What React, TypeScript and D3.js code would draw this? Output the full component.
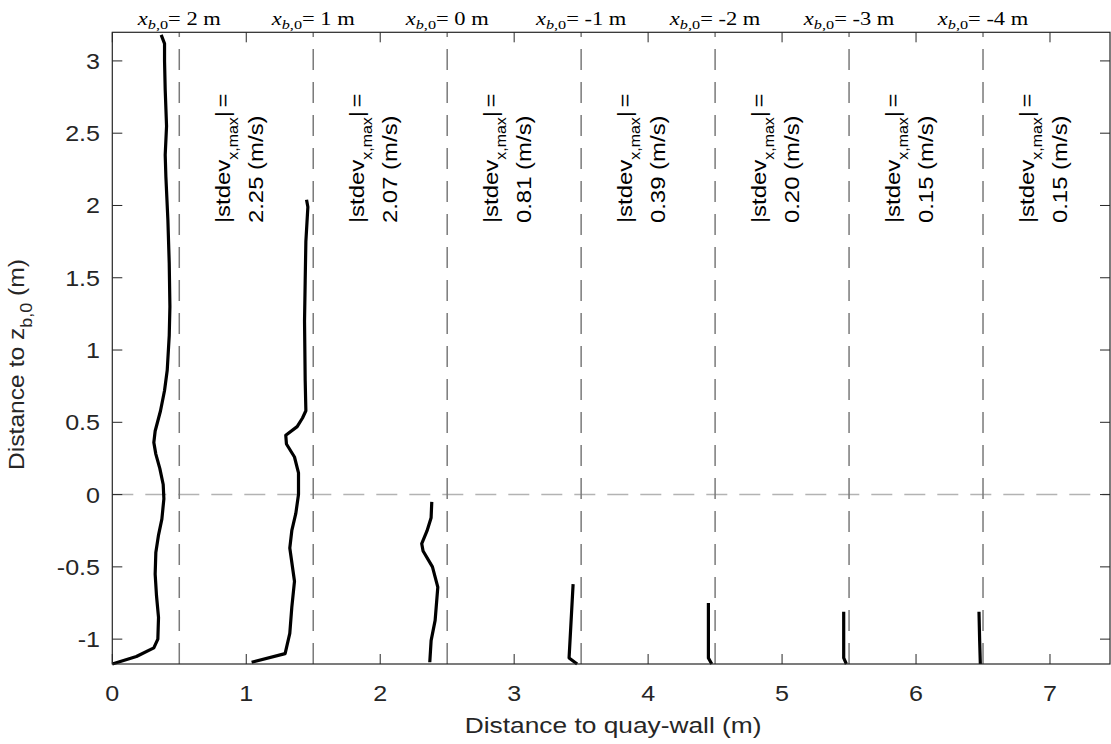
import React from "react";
import * as d3 from "d3";

// ---------- data ----------
const X_TICKS = [0, 1, 2, 3, 4, 5, 6, 7];
const X_TICK_LABELS = ["0", "1", "2", "3", "4", "5", "6", "7"];
const Y_TICKS = [-1, -0.5, 0, 0.5, 1, 1.5, 2, 2.5, 3];
const Y_TICK_LABELS = ["-1", "-0.5", "0", "0.5", "1", "1.5", "2", "2.5", "3"];
const DIVIDERS = [0.5, 1.5, 2.5, 3.5, 4.5, 5.5, 6.5];
const XB0_LABELS = ["2", "1", "0", "-1", "-2", "-3", "-4"];
const STDEV_MAX = ["2.25", "2.07", "0.81", "0.39", "0.20", "0.15", "0.15"];

// profiles: [distance to quay-wall (m), distance to z_b,0 (m)]
const profileXb2: [number, number][] = [
  [0.0, -1.172], [0.18, -1.12], [0.31, -1.06], [0.34, -1.0], [0.345, -0.85],
  [0.33, -0.7], [0.32, -0.55], [0.325, -0.4], [0.345, -0.28], [0.37, -0.17],
  [0.385, -0.03], [0.38, 0.07], [0.355, 0.18], [0.325, 0.28], [0.31, 0.36],
  [0.32, 0.44], [0.36, 0.58], [0.39, 0.72], [0.41, 0.86], [0.425, 1.1],
  [0.43, 1.3], [0.425, 1.6], [0.415, 1.9], [0.4, 2.2], [0.395, 2.35],
  [0.405, 2.55], [0.395, 2.8], [0.39, 3.0], [0.39, 3.12], [0.365, 3.18],
];
const profileXb1: [number, number][] = [
  [1.04, -1.16], [1.29, -1.1], [1.325, -0.96], [1.34, -0.78], [1.36, -0.6],
  [1.325, -0.37], [1.34, -0.25], [1.37, -0.13], [1.39, 0.0], [1.39, 0.15],
  [1.36, 0.26], [1.3, 0.35], [1.295, 0.41], [1.38, 0.47], [1.42, 0.53],
  [1.445, 0.58], [1.44, 0.79], [1.435, 1.2], [1.44, 1.48], [1.445, 1.75],
  [1.46, 1.99], [1.45, 2.04],
];
const profileXb0: [number, number][] = [
  [2.37, -1.16], [2.38, -1.01], [2.41, -0.87], [2.43, -0.64], [2.39, -0.5],
  [2.32, -0.39], [2.31, -0.34], [2.35, -0.25], [2.38, -0.16], [2.385, -0.05],
];
const profileXbm1: [number, number][] = [[3.47, -1.172], [3.41, -1.13], [3.44, -0.62]];
const profileXbm2: [number, number][] = [[4.475, -1.172], [4.45, -1.13], [4.45, -0.75]];
const profileXbm3: [number, number][] = [[5.48, -1.172], [5.46, -1.13], [5.46, -0.81]];
const profileXbm4: [number, number][] = [[6.48, -1.172], [6.475, -1.01], [6.47, -0.81]];
const PROFILES = [profileXb2, profileXb1, profileXb0, profileXbm1, profileXbm2, profileXbm3, profileXbm4];

// ---------- layout ----------
const W = 1111;
const H = 744;
const L = 112.3, R = 1110, T = 32.3, B = 664;
const X_DOMAIN: [number, number] = [0, 7.448];
const Y_DOMAIN: [number, number] = [-1.172, 3.198];
const AX = "#262626";
const SANS = "'Liberation Sans', Arial, Helvetica, sans-serif";
const SERIF = "'Liberation Serif', 'Times New Roman', serif";
const ST = 1.14; // horizontal stretch of text

export default function App() {
  const x = d3.scaleLinear().domain(X_DOMAIN).range([L, R]);
  const y = d3.scaleLinear().domain(Y_DOMAIN).range([B, T]);
  const line = d3
    .line<[number, number]>()
    .x((d) => x(d[0]))
    .y((d) => y(d[1]));
  const tickLen = 10;

  return (
    <svg
      width={W}
      height={H}
      style={{ position: "absolute", left: 0, top: 0, background: "#fff" }}
      fontFamily={SANS}
    >
      <rect x={0} y={0} width={W} height={H} fill="#fff" />

      {/* horizontal reference at z = 0 */}
      <line
        x1={x(X_DOMAIN[0])}
        x2={x(X_DOMAIN[1])}
        y1={y(0)}
        y2={y(0)}
        stroke="#b3b3b3"
        strokeWidth={1.5}
        strokeDasharray="21,12"
      />
      {/* vertical dividers */}
      {DIVIDERS.map((d) => (
        <line
          key={"dv" + d}
          x1={x(d)}
          x2={x(d)}
          y1={y(Y_DOMAIN[0])}
          y2={y(Y_DOMAIN[1])}
          stroke="#7a7a7a"
          strokeWidth={1.5}
          strokeDasharray="21,12"
        />
      ))}

      {/* profiles */}
      {PROFILES.map((p, i) => (
        <path
          key={"p" + i}
          d={line(p) || ""}
          fill="none"
          stroke="#000"
          strokeWidth={3.2}
          strokeLinejoin="round"
          strokeLinecap="butt"
        />
      ))}

      {/* axes box */}
      <rect x={L} y={T} width={R - L} height={B - T} fill="none" stroke={AX} strokeWidth={1.2} />
      {X_TICKS.map((t) => (
        <g key={"xt" + t}>
          <line x1={x(t)} x2={x(t)} y1={B} y2={B - tickLen} stroke={AX} strokeWidth={1} />
          <line x1={x(t)} x2={x(t)} y1={T} y2={T + tickLen} stroke={AX} strokeWidth={1} />
        </g>
      ))}
      {Y_TICKS.map((t) => (
        <g key={"yt" + t}>
          <line x1={L} x2={L + tickLen} y1={y(t)} y2={y(t)} stroke={AX} strokeWidth={1} />
          <line x1={R} x2={R - tickLen} y1={y(t)} y2={y(t)} stroke={AX} strokeWidth={1} />
        </g>
      ))}

      {/* tick labels */}
      {X_TICKS.map((t, i) => (
        <text
          key={"xl" + t}
          transform={`translate(${x(t)},${700.5}) scale(${ST},1)`}
          textAnchor="middle"
          fontSize={22}
          fill={AX}
        >
          {X_TICK_LABELS[i]}
        </text>
      ))}
      {Y_TICKS.map((t, i) => (
        <text
          key={"yl" + t}
          transform={`translate(${100},${y(t) + 8}) scale(${ST},1)`}
          textAnchor="end"
          fontSize={22}
          fill={AX}
        >
          {Y_TICK_LABELS[i]}
        </text>
      ))}

      {/* axis labels */}
      <text
        transform={`translate(${(L + R) / 2 + 2},${733}) scale(1.17,1)`}
        textAnchor="middle"
        fontSize={22.5}
        fill={AX}
      >
        Distance to quay-wall (m)
      </text>
      <text
        transform={`translate(${24},${470}) rotate(-90) scale(1.12,1)`}
        textAnchor="start"
        fontSize={22}
        fill={AX}
      >
        Distance to z
        <tspan fontSize={16} dy={8}>b,0</tspan>
        <tspan dy={-8}> (m)</tspan>
      </text>

      {/* top position labels */}
      {XB0_LABELS.map((v, i) => (
        <text
          key={"top" + i}
          transform={`translate(${x(i + 0.5)},${25}) scale(1.25,1)`}
          textAnchor="middle"
          fontFamily={SERIF}
          fontSize={18}
          fill="#000"
        >
          <tspan fontStyle="italic">x</tspan>
          <tspan fontSize={13} dy={3.5} fontStyle="italic">b</tspan>
          <tspan fontSize={13}>,0</tspan>
          <tspan dy={-3.5}>{"= " + v + " m"}</tspan>
        </text>
      ))}

      {/* annotations */}
      {STDEV_MAX.map((v, i) => (
        <g key={"an" + i}>
          <text
            transform={`translate(${x(i + 0.878)},${y(1.878)}) rotate(-90) scale(${ST},1)`}
            textAnchor="start"
            fontSize={21}
            fill="#000"
          >
            |stdev
            <tspan fontSize={14} dy={8}>x,max</tspan>
            <tspan dy={-8}>|</tspan>
            <tspan dx={3}>=</tspan>
          </text>
          <text
            transform={`translate(${x(i + 1.125)},${y(1.878)}) rotate(-90) scale(${ST},1)`}
            textAnchor="start"
            fontSize={21}
            fill="#000"
          >
            {v + " (m/s)"}
          </text>
        </g>
      ))}
    </svg>
  );
}
